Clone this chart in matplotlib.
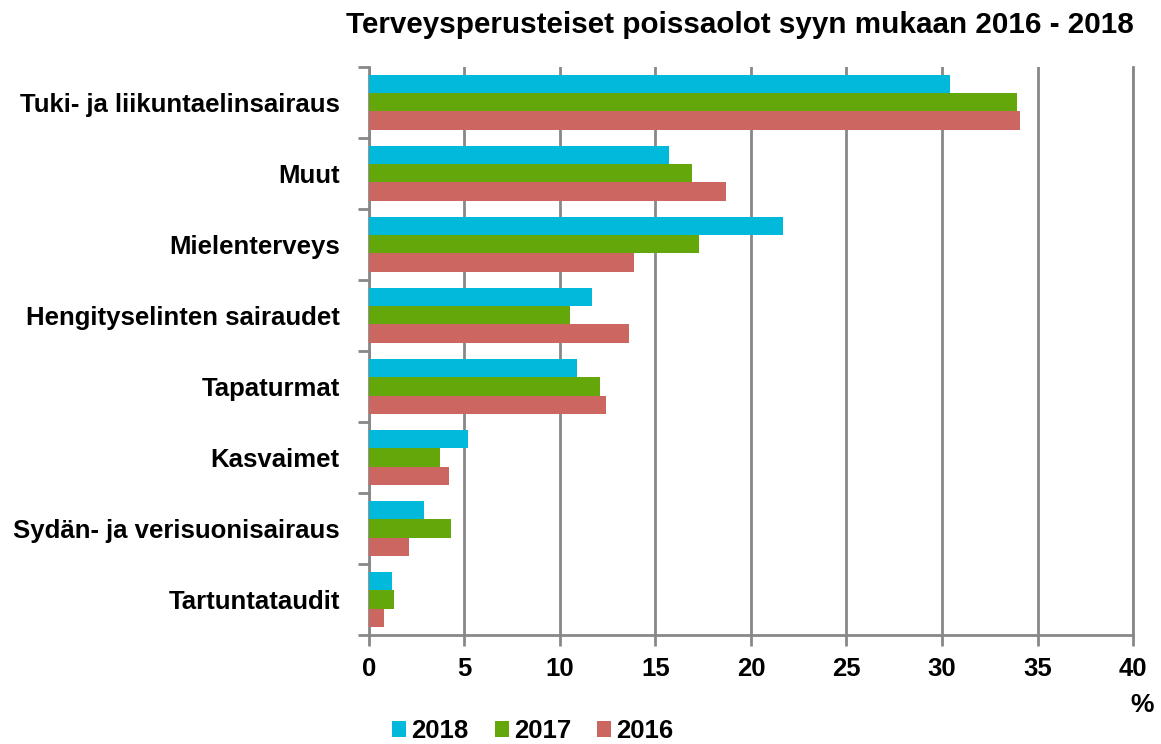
import numpy as np
import matplotlib
matplotlib.use('Agg')
import matplotlib.pyplot as plt
from matplotlib.patches import Patch

plt.rcParams['font.family'] = ['Liberation Sans', 'DejaVu Sans']
plt.rcParams['font.weight'] = 'bold'

categories = ['Tuki- ja liikuntaelinsairaus', 'Muut', 'Mielenterveys',
              'Hengityselinten sairaudet', 'Tapaturmat', 'Kasvaimet',
              'Sydän- ja verisuonisairaus', 'Tartuntataudit']
years = ['2018', '2017', '2016']
v2018 = [30.4, 15.7, 21.7, 11.7, 10.9, 5.2, 2.9, 1.2]
v2017 = [33.9, 16.9, 17.3, 10.5, 12.1, 3.7, 4.3, 1.3]
v2016 = [34.1, 18.7, 13.9, 13.6, 12.4, 4.2, 2.1, 0.8]
colors = ['#00b9db', '#64a70b', '#cc6660']

fig = plt.figure(figsize=(11.61, 7.44), dpi=100)
ax = fig.add_axes([0.3178, 0.1465, 0.9759 - 0.3178, 0.9100 - 0.1465])

y = np.arange(len(categories))
h = 0.254
for k, (vals, c) in enumerate(zip([v2018, v2017, v2016], colors)):
    ax.barh(y + (k - 1) * h, vals, height=h, color=c, zorder=3)

ax.set_xlim(0, 40)
ax.set_ylim(len(categories) - 0.5, -0.5)
ax.set_xticks(np.arange(0, 41, 5))
ax.set_xticklabels([str(v) for v in range(0, 41, 5)], fontsize=18.5, fontweight='bold')
ax.set_yticks(y)
ax.set_yticklabels(categories, fontsize=18.5, fontweight='bold')
ax.tick_params(axis='y', length=0, pad=21)
ax.set_yticks(np.arange(-0.5, len(categories), 1), minor=True)
ax.tick_params(axis='y', which='minor', length=8, width=2, color='#888888')
ax.tick_params(axis='x', length=8, width=2, color='#888888', pad=8)

ax.grid(axis='x', color='#888888', linewidth=2, zorder=0)
ax.axvline(40, color='#888888', linewidth=2, zorder=0, clip_on=False)
for s in ['top', 'right']:
    ax.spines[s].set_visible(False)
for s in ['left', 'bottom']:
    ax.spines[s].set_color('#888888')
    ax.spines[s].set_linewidth(2)

fig.text(0.637, 0.966, 'Terveysperusteiset poissaolot syyn mukaan 2016 - 2018',
         ha='center', va='center', fontsize=21.3, fontweight='bold')
fig.text(0.984, 0.052, '%', ha='center', va='center', fontsize=19, fontweight='bold')

handles = [Patch(facecolor=c, label=yr) for c, yr in zip(colors, years)]
fig.legend(handles=handles, loc='lower left', bbox_to_anchor=(0.318, -0.03), ncol=3,
           frameon=False, handlelength=0.55, handleheight=0.55,
           handletextpad=0.2, columnspacing=1.0, prop={'weight': 'bold', 'size': 18.5})

fig.savefig('out.png', dpi=100)
